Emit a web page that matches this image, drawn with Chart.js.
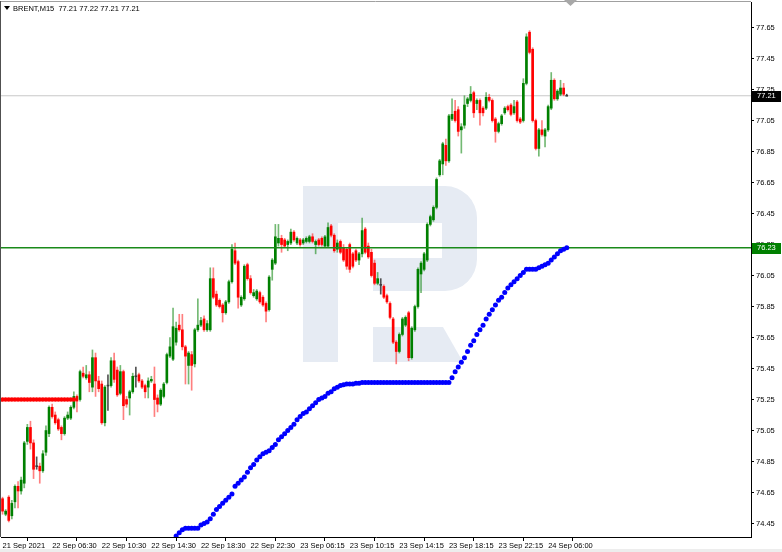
<!DOCTYPE html>
<html>
<head>
<meta charset="utf-8">
<script src="https://cdn.jsdelivr.net/npm/chart.js@4.4.0/dist/chart.umd.min.js"></script>
<style>
  html, body { margin: 0; padding: 0; background: #fff; }
  #wrap { width: 782px; height: 552px; }
</style>
</head>
<body>
<div id="wrap"><canvas id="myChart" width="782" height="552"></canvas></div>
<script>
// title line and axis labels
const symbolTitle = 'BRENT,M15  77.21 77.22 77.21 77.21';
const tickLabels = ['21 Sep 2021', '22 Sep 06:30', '22 Sep 10:30', '22 Sep 14:30', '22 Sep 18:30', '22 Sep 22:30',
    '23 Sep 06:15', '23 Sep 10:15', '23 Sep 14:15', '23 Sep 18:15', '23 Sep 22:15', '24 Sep 06:00'];
const barsPerLabel = 16;
const yTicks = [74.45, 74.65, 74.85, 75.05, 75.25, 75.45, 75.65, 75.85, 76.05, 76.25, 76.45, 76.65, 76.85, 77.05, 77.25, 77.45, 77.65];

// M15 candles
const open = [
    74.61, 74.51, 74.62, 74.50, 74.59, 74.69, 74.66, 74.71, 74.98, 75.07,
    74.97, 74.82, 74.82, 74.79, 74.91, 75.03, 75.20, 75.15, 75.12, 75.07,
    75.03, 75.13, 75.13, 75.20, 75.27, 75.25, 75.42, 75.39, 75.41, 75.33,
    75.52, 75.37, 75.35, 75.10, 75.34, 75.34, 75.50, 75.44, 75.29, 75.43,
    75.25, 75.26, 75.30, 75.40, 75.41, 75.37, 75.34, 75.33, 75.37, 75.35,
    75.26, 75.22, 75.27, 75.36, 75.53, 75.51, 75.62, 75.73, 75.70, 75.59,
    75.47, 75.54, 75.48, 75.70, 75.73, 75.77, 75.70, 75.70, 76.03, 75.93,
    75.89, 75.86, 75.81, 75.88, 76.01, 76.21, 76.14, 75.86, 75.90, 76.12,
    76.03, 75.92, 75.90, 75.94, 75.91, 75.87, 75.83, 76.09, 76.13, 76.26,
    76.29, 76.28, 76.25, 76.26, 76.33, 76.26, 76.28, 76.26, 76.27, 76.27,
    76.30, 76.25, 76.28, 76.29, 76.24, 76.24, 76.37, 76.31, 76.22, 76.27,
    76.23, 76.22, 76.25, 76.19, 76.21, 76.15, 76.19, 76.35, 76.24, 76.20,
    76.13, 76.00, 75.99, 75.98, 75.92, 75.87, 75.77, 75.62, 75.56, 75.67,
    75.73, 75.81, 75.52, 75.70, 75.85, 76.06, 76.09, 76.15, 76.38, 76.41,
    76.49, 76.70, 76.77, 76.89, 76.79, 77.06, 77.11, 77.12, 76.99, 77.02,
    77.16, 77.18, 77.23, 77.16, 77.18, 77.13, 77.13, 77.20, 77.18, 77.06,
    76.98, 77.03, 77.10, 77.14, 77.15, 77.10, 77.17, 77.06, 77.05, 77.29,
    77.62, 77.51, 77.05, 76.87, 76.99, 76.95, 76.99, 77.13, 77.31, 77.19,
    77.22, 77.26, 77.21
];
const high = [
    74.62, 74.54, 74.63, 74.60, 74.70, 74.72, 74.75, 74.98, 75.09, 75.11,
    74.99, 74.88, 74.84, 74.92, 75.08, 75.21, 75.22, 75.17, 75.13, 75.08,
    75.14, 75.17, 75.21, 75.30, 75.28, 75.44, 75.46, 75.47, 75.43, 75.57,
    75.55, 75.40, 75.37, 75.34, 75.41, 75.52, 75.55, 75.46, 75.47, 75.44,
    75.27, 75.31, 75.42, 75.46, 75.42, 75.38, 75.35, 75.39, 75.40, 75.46,
    75.28, 75.32, 75.36, 75.55, 75.65, 75.84, 75.75, 75.80, 75.80, 75.60,
    75.56, 75.56, 75.71, 75.90, 75.78, 75.79, 75.76, 76.10, 76.10, 75.95,
    75.90, 75.87, 75.89, 76.02, 76.25, 76.26, 76.15, 75.92, 76.12, 76.13,
    76.05, 75.96, 75.96, 75.95, 75.92, 75.88, 76.05, 76.16, 76.38, 76.38,
    76.31, 76.29, 76.28, 76.35, 76.34, 76.30, 76.29, 76.29, 76.30, 76.31,
    76.32, 76.28, 76.29, 76.30, 76.31, 76.39, 76.38, 76.32, 76.28, 76.28,
    76.25, 76.23, 76.26, 76.20, 76.22, 76.20, 76.42, 76.36, 76.26, 76.22,
    76.15, 76.07, 76.03, 75.99, 75.93, 75.88, 75.78, 75.63, 75.68, 75.78,
    75.79, 75.82, 75.72, 75.86, 76.10, 76.14, 76.20, 76.39, 76.44, 76.50,
    76.68, 76.80, 76.91, 76.93, 77.09, 77.19, 77.18, 77.14, 77.03, 77.21,
    77.20, 77.27, 77.24, 77.19, 77.19, 77.14, 77.23, 77.22, 77.19, 77.07,
    77.04, 77.09, 77.14, 77.15, 77.16, 77.18, 77.18, 77.07, 77.32, 77.61,
    77.63, 77.52, 77.06, 77.00, 77.05, 77.00, 77.15, 77.36, 77.32, 77.25,
    77.31, 77.29, 77.22
];
const low = [
    74.51, 74.50, 74.46, 74.48, 74.55, 74.55, 74.64, 74.68, 74.96, 74.93,
    74.74, 74.80, 74.71, 74.78, 74.89, 75.01, 75.13, 75.09, 75.05, 74.99,
    75.02, 75.12, 75.12, 75.19, 75.17, 75.24, 75.39, 75.38, 75.30, 75.30,
    75.27, 75.30, 75.09, 75.08, 75.18, 75.33, 75.36, 75.27, 75.28, 75.12,
    75.20, 75.15, 75.29, 75.33, 75.36, 75.32, 75.26, 75.26, 75.36, 75.14,
    75.17, 75.21, 75.26, 75.35, 75.52, 75.50, 75.60, 75.69, 75.57, 75.35,
    75.35, 75.31, 75.46, 75.69, 75.72, 75.69, 75.69, 75.69, 75.90, 75.85,
    75.84, 75.75, 75.80, 75.87, 76.00, 76.12, 75.84, 75.85, 75.89, 76.02,
    75.93, 75.91, 75.89, 75.87, 75.85, 75.75, 75.82, 76.02, 76.12, 76.24,
    76.20, 76.23, 76.21, 76.25, 76.27, 76.25, 76.24, 76.25, 76.26, 76.26,
    76.26, 76.19, 76.24, 76.24, 76.23, 76.23, 76.30, 76.20, 76.20, 76.19,
    76.14, 76.09, 76.07, 76.10, 76.14, 76.12, 76.17, 76.19, 76.16, 76.04,
    75.99, 75.99, 75.93, 75.90, 75.87, 75.77, 75.61, 75.48, 75.55, 75.66,
    75.72, 75.50, 75.51, 75.69, 75.84, 75.94, 76.08, 76.14, 76.37, 76.40,
    76.48, 76.69, 76.70, 76.76, 76.78, 77.05, 77.04, 76.95, 76.84, 77.00,
    77.14, 77.17, 77.07, 77.12, 77.02, 77.08, 77.12, 77.17, 77.04, 76.91,
    76.97, 77.02, 77.09, 77.11, 77.08, 77.09, 77.04, 77.03, 77.04, 77.28,
    77.48, 77.04, 76.86, 76.82, 76.95, 76.88, 76.98, 77.12, 77.18, 77.18,
    77.21, 77.21, 77.21
];
const close = [
    74.53, 74.53, 74.47, 74.58, 74.69, 74.66, 74.73, 74.97, 75.07, 74.97,
    74.80, 74.82, 74.79, 74.90, 75.05, 75.20, 75.14, 75.10, 75.06, 75.03,
    75.13, 75.15, 75.20, 75.27, 75.24, 75.43, 75.40, 75.41, 75.36, 75.52,
    75.37, 75.32, 75.10, 75.33, 75.34, 75.50, 75.38, 75.28, 75.43, 75.21,
    75.22, 75.30, 75.40, 75.40, 75.37, 75.33, 75.30, 75.37, 75.38, 75.25,
    75.22, 75.31, 75.35, 75.54, 75.59, 75.72, 75.71, 75.70, 75.59, 75.53,
    75.55, 75.47, 75.70, 75.73, 75.76, 75.70, 75.74, 76.03, 75.91, 75.86,
    75.85, 75.81, 75.88, 76.01, 76.22, 76.13, 75.91, 75.91, 76.11, 76.03,
    75.94, 75.94, 75.95, 75.88, 75.86, 75.82, 76.04, 76.15, 76.30, 76.29,
    76.25, 76.24, 76.27, 76.33, 76.28, 76.29, 76.25, 76.28, 76.29, 76.30,
    76.27, 76.27, 76.25, 76.25, 76.30, 76.36, 76.31, 76.21, 76.26, 76.20,
    76.15, 76.11, 76.09, 76.11, 76.15, 76.19, 76.34, 76.20, 76.17, 76.05,
    76.00, 76.03, 75.99, 75.91, 75.88, 75.78, 75.62, 75.56, 75.67, 75.77,
    75.78, 75.52, 75.71, 75.85, 76.09, 76.13, 76.19, 76.38, 76.43, 76.49,
    76.67, 76.79, 76.90, 76.79, 77.08, 77.09, 77.05, 76.98, 77.01, 77.15,
    77.19, 77.22, 77.10, 77.18, 77.10, 77.10, 77.20, 77.18, 77.05, 76.98,
    77.03, 77.08, 77.13, 77.12, 77.09, 77.14, 77.05, 77.04, 77.29, 77.59,
    77.49, 77.05, 76.87, 76.99, 76.96, 76.99, 77.14, 77.31, 77.19, 77.24,
    77.26, 77.22, 77.21
];

// blue dotted indicator, first value sits on bar 56
const blueStart = 56;
const blueDots = [
    74.37, 74.39, 74.41, 74.42, 74.42, 74.42, 74.42, 74.42, 74.44, 74.45,
    74.46, 74.48, 74.51, 74.54, 74.56, 74.58, 74.60, 74.62, 74.64, 74.69,
    74.71, 74.73, 74.75, 74.78, 74.81, 74.83, 74.86, 74.88, 74.90, 74.91,
    74.92, 74.94, 74.96, 74.99, 75.01, 75.03, 75.05, 75.07, 75.09, 75.12,
    75.14, 75.16, 75.17, 75.19, 75.21, 75.23, 75.25, 75.26, 75.27, 75.29,
    75.30, 75.32, 75.33, 75.34, 75.345, 75.35, 75.35, 75.35, 75.355, 75.355,
    75.36, 75.36, 75.36, 75.36, 75.36, 75.36, 75.36, 75.36, 75.36, 75.36,
    75.36, 75.36, 75.36, 75.36, 75.36, 75.36, 75.36, 75.36, 75.36, 75.36,
    75.36, 75.36, 75.36, 75.36, 75.36, 75.36, 75.36, 75.36, 75.36,
    75.39, 75.43, 75.46, 75.49, 75.52, 75.56, 75.60, 75.63, 75.67, 75.70,
    75.73, 75.77, 75.80, 75.83, 75.86, 75.89, 75.91, 75.94, 75.97, 75.99,
    76.01, 76.03, 76.05, 76.07, 76.09, 76.09, 76.09, 76.09, 76.10, 76.11,
    76.12, 76.13, 76.15, 76.17, 76.19, 76.21, 76.22, 76.23
];
// red dotted indicator, from bar 0
const redDots = [
    75.25, 75.25, 75.25, 75.25, 75.25, 75.25, 75.25, 75.25, 75.25, 75.25, 75.25, 75.25,
    75.25, 75.25, 75.25, 75.25, 75.25, 75.25, 75.25, 75.25, 75.25, 75.25, 75.25, 75.25
];

const bidLevel = 77.21;
const greenLevel = 76.23;

const FONT = '"Liberation Sans", Arial, sans-serif';
const BULL = '#008000';
const BEAR = '#ff0000';
const DOJI = '#3c3c3c';
const xMin = -0.5, xMax = 241.44;

function isDoji(i) { return Math.abs(open[i] - close[i]) < 0.004; }
function bodyColor(i) {
    if (isDoji(i)) return DOJI;
    return close[i] > open[i] ? BULL : BEAR;
}
function wickColor(i) {
    if (isDoji(i)) return 'rgba(40,40,40,0.8)';
    return close[i] > open[i] ? 'rgba(0,128,0,0.55)' : 'rgba(255,0,0,0.5)';
}

const wicks = high.map((h, i) => ({ x: i, y: [low[i], h] }));
const bodies = open.map((o, i) => isDoji(i) ? { x: i, y: [o - 0.003, o + 0.003] } : { x: i, y: [o, close[i]] });
const bluePts = blueDots.map((v, k) => ({ x: blueStart + k, y: v }));
const redPts = redDots.map((v, k) => ({ x: k, y: v }));

// RoboForex-like watermark behind the candles
const watermark = {
    id: 'watermark',
    beforeDatasetsDraw(chart) {
        const c = chart.ctx;
        c.save();
        c.fillStyle = '#e6ebf3';
        c.fillRect(303, 186, 35, 176);
        c.beginPath();
        c.moveTo(338, 186);
        c.lineTo(445, 186);
        c.arcTo(477, 186, 477, 218, 32);
        c.lineTo(477, 259);
        c.arcTo(477, 291, 445, 291, 32);
        c.lineTo(373, 291);
        c.lineTo(373, 258);
        c.lineTo(442, 258);
        c.lineTo(442, 223);
        c.lineTo(338, 223);
        c.closePath();
        c.fill();
        c.beginPath();
        c.moveTo(373, 327);
        c.lineTo(443, 327);
        c.lineTo(463, 362);
        c.lineTo(373, 362);
        c.closePath();
        c.fill();
        c.restore();
    }
};

function priceTag(chart, value, bg) {
    const c = chart.ctx;
    const y = chart.scales.y.getPixelForValue(value);
    const x = chart.chartArea.right + 1;
    c.fillStyle = bg;
    c.fillRect(x, Math.round(y) - 5, 29, 11);
    c.fillStyle = '#fff';
    c.font = '7.5px ' + FONT;
    c.textAlign = 'left';
    c.textBaseline = 'middle';
    c.fillText(value.toFixed(2), x + 5, y + 0.5);
}

const decorations = {
    id: 'decorations',
    afterDraw(chart) {
        const c = chart.ctx;
        const a = chart.chartArea;
        c.save();
        // frame
        c.strokeStyle = '#a0a0a0';
        c.lineWidth = 1;
        c.beginPath();
        c.moveTo(0, 1.5); c.lineTo(a.right, 1.5);
        c.stroke();
        c.strokeStyle = '#505050';
        c.beginPath();
        c.moveTo(0.5, 1); c.lineTo(0.5, a.bottom);
        c.stroke();
        // bottom strip
        c.fillStyle = '#ededed';
        c.fillRect(0, 549, 782, 3);
        // shift marker
        c.fillStyle = '#a8a8a8';
        c.beginPath();
        c.moveTo(564, 0); c.lineTo(577, 0); c.lineTo(570.5, 6); c.closePath();
        c.fill();
        // title
        c.fillStyle = '#000';
        c.beginPath();
        c.moveTo(4, 6); c.lineTo(10, 6); c.lineTo(7, 10); c.closePath();
        c.fill();
        c.font = '7.5px ' + FONT;
        c.textAlign = 'left';
        c.textBaseline = 'middle';
        c.fillText(symbolTitle, 13, 8.5);
        // price tags on the axis
        priceTag(chart, bidLevel, '#000');
        priceTag(chart, greenLevel, '#008000');
        c.restore();
    }
};

const ctx = document.getElementById('myChart').getContext('2d');
const chart = new Chart(ctx, {
    type: 'bar',
    data: {
        datasets: [
            {
                type: 'line', data: [{ x: xMin, y: bidLevel }, { x: xMax, y: bidLevel }],
                borderColor: '#c8c8c8', borderWidth: 1, pointRadius: 0, order: 6
            },
            {
                data: wicks, backgroundColor: c => wickColor(c.dataIndex),
                barThickness: 1, grouped: false, borderWidth: 0, order: 5
            },
            {
                data: bodies, backgroundColor: c => bodyColor(c.dataIndex),
                barThickness: 2, grouped: false, borderWidth: 0, order: 4
            },
            {
                type: 'line', data: [{ x: xMin, y: greenLevel }, { x: xMax, y: greenLevel }],
                borderColor: '#1a8a1a', borderWidth: 1.5, pointRadius: 0, order: 3
            },
            {
                type: 'line', data: redPts, showLine: false, pointRadius: 2.3,
                pointBackgroundColor: '#ff0000', pointBorderWidth: 0, order: 2
            },
            {
                type: 'line', data: bluePts, showLine: false, pointRadius: 2.5,
                pointBackgroundColor: '#0000ff', pointBorderWidth: 0, order: 1
            }
        ]
    },
    options: {
        responsive: false,
        animation: false,
        devicePixelRatio: 1,
        layout: { autoPadding: false, padding: { left: 1, top: 2, right: 0, bottom: 0 } },
        plugins: { legend: { display: false }, tooltip: { enabled: false } },
        scales: {
            x: {
                type: 'linear',
                min: xMin,
                max: xMax,
                offset: false,
                afterBuildTicks: s => { s.ticks = tickLabels.map((_, k) => ({ value: k * barsPerLabel })); },
                afterFit: s => { s.height = 15; s.paddingLeft = 0; s.paddingRight = 0; },
                grid: { drawOnChartArea: false, drawTicks: true, tickLength: 4, color: '#000' },
                border: { display: true, color: '#000', width: 1 },
                ticks: {
                    autoSkip: false, maxRotation: 0, minRotation: 0, align: 'start', padding: 0,
                    color: '#000', font: { family: FONT, size: 7.5 },
                    callback: v => tickLabels[Math.round(v / barsPerLabel)] || ''
                }
            },
            y: {
                position: 'right',
                min: 74.363,
                max: 77.815,
                afterBuildTicks: s => { s.ticks = yTicks.map(v => ({ value: v })); },
                afterFit: s => { s.width = 31; s.paddingTop = 0; s.paddingBottom = 0; },
                grid: { drawOnChartArea: false, drawTicks: true, tickLength: 3, color: '#000' },
                border: { display: true, color: '#000', width: 1 },
                ticks: {
                    padding: 2, color: '#000', font: { family: FONT, size: 7.5 },
                    callback: v => v.toFixed(2)
                }
            }
        }
    },
    plugins: [watermark, decorations]
});
</script>
</body>
</html>
